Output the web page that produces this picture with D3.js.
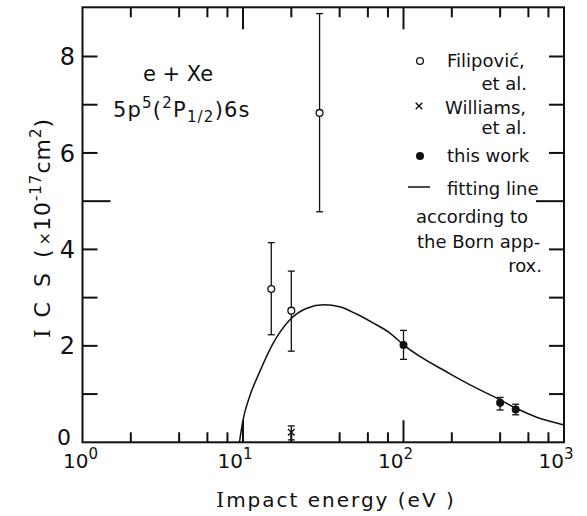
<!DOCTYPE html>
<html><head><meta charset="utf-8">
<script src="https://cdn.jsdelivr.net/npm/d3@7"></script>
<style>body{margin:0;background:#fff}svg{display:block}text{fill:#111;font-family:"DejaVu Sans",sans-serif}</style>
</head><body><svg id="c" width="587" height="516"></svg>
<script>
// Filipović et al. (open circles)
const filE = [15, 20, 30];
const filV = [3.18, 2.73, 6.83];
const filLo = [2.23, 1.89, 4.78];
const filHi = [4.14, 3.55, 8.89];
// Williams et al. (crosses)
const wilE = [20];
const wilV = [0.21];
const wilLo = [0.05];
const wilHi = [0.34];
// this work (filled circles)
const twE = [100, 400, 500];
const twV = [2.02, 0.82, 0.68];
const twLo = [1.72, 0.67, 0.57];
const twHi = [2.32, 0.93, 0.79];
// fitting line (Born approx.)
const fitE = [9.5, 10, 11, 12.7, 15.4, 19.6, 25, 32, 40, 51, 65, 82, 100, 195, 260, 400, 507, 676, 1000];
const fitV = [0, 0.46, 0.95, 1.46, 2.05, 2.54, 2.78, 2.85, 2.81, 2.66, 2.47, 2.27, 2.02, 1.42, 1.19, 0.88, 0.70, 0.52, 0.36];
// ticks
const yLabels = [0, 2, 4, 6, 8];
const yMinor = [1, 2, 3, 4, 6, 7, 8];
const yMajor = [5];
const xDecades = [1, 10, 100, 1000];
const xMajor = [10, 100];
const xMinor = [2,4,6,8,20,40,60,80,200,400,600,800];

const svg = d3.select("#c");
const L = 82.5, R = 564, T = 7.3, B = 442.3;
const x = d3.scaleLog().domain([1, 1000]).range([L, R]);
const y = d3.scaleLinear().domain([0, 9.02]).range([B, T]);
const ink = "#111";

function xTicks(vals, len) {
  svg.append("g").selectAll("line").data(vals).join("line")
    .attr("x1", d => x(d)).attr("x2", d => x(d)).attr("y1", B).attr("y2", B - len)
    .attr("stroke", ink).attr("stroke-width", 2);
  svg.append("g").selectAll("line").data(vals).join("line")
    .attr("x1", d => x(d)).attr("x2", d => x(d)).attr("y1", T).attr("y2", T + len)
    .attr("stroke", ink).attr("stroke-width", 2);
}
function yTicks(vals, len) {
  svg.append("g").selectAll("line").data(vals).join("line")
    .attr("y1", d => y(d)).attr("y2", d => y(d)).attr("x1", L).attr("x2", L + len)
    .attr("stroke", ink).attr("stroke-width", 2);
  svg.append("g").selectAll("line").data(vals).join("line")
    .attr("y1", d => y(d)).attr("y2", d => y(d)).attr("x1", R).attr("x2", R - len)
    .attr("stroke", ink).attr("stroke-width", 2);
}

// frame
svg.append("rect").attr("x", L).attr("y", T).attr("width", R - L).attr("height", B - T)
  .attr("fill", "none").attr("stroke", ink).attr("stroke-width", 2);

// y tick labels
svg.append("g").selectAll("text").data(yLabels).join("text")
  .attr("x", d => d === 0 ? 71 : 75).attr("y", d => (d === 0 ? y(d) - 5 : y(d)))
  .attr("dy", "0.36em").attr("text-anchor", "end").attr("font-size", d => d === 0 ? 22 : 24).text(d => d);

// x tick labels 10^n
const xl = svg.append("g").selectAll("text").data(xDecades).join("text")
  .attr("x", d => x(d)).attr("y", 468).attr("text-anchor", "end").attr("font-size", 20);
xl.append("tspan").text("10");
xl.append("tspan").attr("dy", -9).attr("font-size", 15).text(d => Math.round(Math.log10(d)));
xl.each(function(d){
  const t = d3.select(this);
  const sup = t.select("tspan:nth-child(2)").node().getComputedTextLength();
  t.attr("x", x(d) + sup + (d === 1 ? 6 : 0));
});

// fitting line
const fit = fitE.map((e, i) => [e, fitV[i]]);
svg.append("path").datum(fit)
  .attr("d", d3.line().x(d => x(d[0])).y(d => y(d[1])).curve(d3.curveMonotoneX))
  .attr("fill", "none").attr("stroke", ink).attr("stroke-width", 1.5);

function errbars(E, lo, hi) {
  const g = svg.append("g").attr("stroke", ink).attr("stroke-width", 1.3);
  E.forEach((e, i) => {
    const cx = x(e);
    g.append("line").attr("x1", cx).attr("x2", cx).attr("y1", y(lo[i])).attr("y2", y(hi[i]));
    g.append("line").attr("x1", cx - 3.5).attr("x2", cx + 3.5).attr("y1", y(lo[i])).attr("y2", y(lo[i]));
    g.append("line").attr("x1", cx - 3.5).attr("x2", cx + 3.5).attr("y1", y(hi[i])).attr("y2", y(hi[i]));
  });
}
errbars(filE, filLo, filHi);
errbars(wilE, wilLo, wilHi);
errbars(twE, twLo, twHi);

svg.append("g").selectAll("circle").data(filE).join("circle")
  .attr("cx", d => x(d)).attr("cy", (d, i) => y(filV[i])).attr("r", 3.4)
  .attr("fill", "#fff").attr("stroke", ink).attr("stroke-width", 1.3);
svg.append("g").selectAll("circle").data(twE).join("circle")
  .attr("cx", d => x(d)).attr("cy", (d, i) => y(twV[i])).attr("r", 4)
  .attr("fill", ink);
const cross = d3.symbol().type(d3.symbolX).size(30);
svg.append("g").selectAll("path").data(wilE).join("path")
  .attr("d", cross).attr("transform", (d, i) => `translate(${x(d)},${y(wilV[i])})`)
  .attr("fill", "none").attr("stroke", ink).attr("stroke-width", 1.4);

// ticks
xTicks(xMinor, 10);
xTicks(xMajor, 22);
yTicks(yMinor, 15);
yTicks(yMajor, 28);

// annotation
svg.append("text").attr("x", 143).attr("y", 81).attr("font-size", 21).text("e + Xe");
const an = svg.append("text").attr("x", 113).attr("y", 117).attr("font-size", 21).attr("letter-spacing", 1.2);
an.append("tspan").text("5p");
an.append("tspan").attr("dy", -9).attr("font-size", 15).text("5");
an.append("tspan").attr("dy", 9).text("(");
an.append("tspan").attr("dy", -9).attr("font-size", 15).text("2");
an.append("tspan").attr("dy", 9).text("P");
an.append("tspan").attr("dy", 5).attr("font-size", 15).text("1/2");
an.append("tspan").attr("dy", -5).text(")6s");

// legend
const lg = svg.append("g").attr("font-size", 18);
lg.append("circle").attr("cx", 420).attr("cy", 61).attr("r", 3.4).attr("fill", "#fff").attr("stroke", ink).attr("stroke-width", 1.3);
lg.append("text").attr("x", 447).attr("y", 67).text("Filipović,");
lg.append("text").attr("x", 527).attr("y", 90).attr("text-anchor", "end").text("et al.");
lg.append("path").attr("d", cross).attr("transform", "translate(419,106)").attr("fill", "none").attr("stroke", ink).attr("stroke-width", 1.4);
lg.append("text").attr("x", 445).attr("y", 114).text("Williams,");
lg.append("text").attr("x", 527).attr("y", 134).attr("text-anchor", "end").text("et al.");
lg.append("circle").attr("cx", 420).attr("cy", 156).attr("r", 4).attr("fill", ink);
lg.append("text").attr("x", 447).attr("y", 162).text("this work");
lg.append("line").attr("x1", 408).attr("x2", 430).attr("y1", 187).attr("y2", 187).attr("stroke", ink).attr("stroke-width", 1.5);
lg.append("text").attr("x", 447).attr("y", 195).text("fitting line");
lg.append("text").attr("x", 416).attr("y", 223).text("according to");
lg.append("text").attr("x", 417).attr("y", 248).text("the Born app-");
lg.append("text").attr("x", 542).attr("y", 272).attr("text-anchor", "end").text("rox.");

// axis titles
const xt = svg.append("text").attr("x", 336).attr("y", 507).attr("text-anchor", "middle")
  .attr("font-size", 20).attr("letter-spacing", 2);
xt.append("tspan").attr("font-family", "DejaVu Serif").text("I");
xt.append("tspan").text("mpact  energy (eV )");

const yt = svg.append("text").attr("transform", "translate(50,228) rotate(-90)")
  .attr("text-anchor", "middle").attr("font-size", 22).attr("letter-spacing", 1);
yt.append("tspan").attr("font-family", "DejaVu Serif").text("I");
yt.append("tspan").attr("letter-spacing", 4).text("  C  S  (");
yt.append("tspan").attr("font-size", 16).text("×");
yt.append("tspan").text("10");
yt.append("tspan").attr("dy", -9).attr("font-size", 15).text("-17");
yt.append("tspan").attr("dy", 9).text("cm");
yt.append("tspan").attr("dy", -9).attr("font-size", 15).text("2");
yt.append("tspan").attr("dy", 9).text(")");
</script></body></html>
